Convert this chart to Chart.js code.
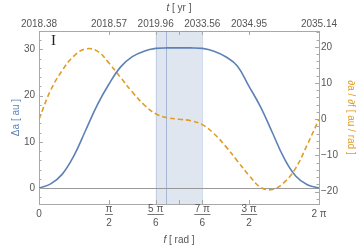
<!DOCTYPE html>
<html>
<head>
<meta charset="utf-8">
<script src="https://cdn.jsdelivr.net/npm/chart.js@4"></script>
<style>body{margin:0;background:#fff}canvas{display:block}</style>
</head>
<body>
<canvas id="c" width="358" height="248"></canvas>
<script>
const PI = Math.PI;

// true anomaly grid [rad]
const fGrid = [0, 0.2618, 0.5236, 0.7854, 1.0472, 1.3090, 1.5708, 1.8326, 2.0944, 2.3562, 2.6180, 2.8798,
  3.1416, 3.4034, 3.6652, 3.9270, 4.1888, 4.4506, 4.7124, 4.9742, 5.2360, 5.4978, 5.7596, 6.0214, 6.2832];
// delta a [au]
const deltaA = [0, 0.9, 3, 7, 12.5, 18, 22.5, 26.2, 28.4, 29.6, 30.2, 30.3,
  30.3, 30.3, 30.2, 29.6, 28.4, 26.4, 22, 17.5, 12, 6.5, 2.6, 0.7, 0];
// da/df [au/rad]
const dadf = [0, 8, 13.5, 17.5, 19.4, 18.8, 15.5, 11.5, 7.5, 4, 1.5, 0.4,
  0, -0.4, -1.5, -4, -7.5, -11.5, -15.5, -18.8, -19.4, -17.5, -13.5, -7, 0];

const fTicks = [0, PI/2, 5*PI/6, PI, 7*PI/6, 3*PI/2, 2*PI];
const fTickLabels = ['0', ['π','2'], ['5 π','6'], '', ['7 π','6'], ['3 π','2'], '2 π'];
const tTickLabels = ['2018.38', '2018.57', '2019.96', '', '2033.56', '2034.95', '2035.14'];
const leftTicks = [0, 10, 20, 30];
const rightTicks = [-20, -10, 0, 10, 20];
const rightTickLabels = ['−20', '−10', '0', '10', '20'];
const band = [5*PI/6, 7*PI/6];
const fMark = 2.86;

const BLUE = '#5e81b5', ORANGE = '#e19c24', FRAME = '#a8a8a8', TXT = '#555';
const FONT = '"Liberation Sans", Arial, sans-serif';

function seg(ctx, x0, y0, x1, y1) {
  ctx.beginPath(); ctx.moveTo(x0, y0); ctx.lineTo(x1, y1); ctx.stroke();
}
const crisp = v => Math.round(v) + 0.5;

const decor = {
  id: 'decor',
  beforeDatasetsDraw(chart) {
    const {ctx, chartArea: a, scales: {x, y}} = chart;
    const x0 = x.getPixelForValue(band[0]), x1 = x.getPixelForValue(band[1]);
    ctx.save();
    ctx.fillStyle = 'rgba(94,129,181,0.2)';
    ctx.fillRect(x0, a.top, x1 - x0, a.bottom - a.top);
    ctx.lineWidth = 1;
    ctx.strokeStyle = 'rgba(94,129,181,0.22)';
    [x0, x1].forEach(p => seg(ctx, crisp(p), a.top, crisp(p), a.bottom));
    ctx.strokeStyle = 'rgba(94,129,181,0.45)';
    const xm = crisp(x.getPixelForValue(fMark));
    seg(ctx, xm, a.top, xm, a.bottom);
    ctx.strokeStyle = '#999';
    const yz = crisp(y.getPixelForValue(0));
    seg(ctx, a.left, yz, a.right, yz);
    ctx.restore();
  },
  afterDraw(chart) {
    const {ctx, chartArea: a, scales: {x, y, y2}} = chart;
    ctx.save();
    ctx.strokeStyle = FRAME;
    ctx.lineWidth = 1;
    // inward ticks, top and bottom
    fTicks.forEach(v => {
      const p = crisp(x.getPixelForValue(v));
      seg(ctx, p, a.bottom, p, a.bottom - 4);
      seg(ctx, p, a.top, p, a.top + 4);
    });
    // left ticks
    for (let v = -2; v <= y.max; v += 2) {
      const p = crisp(y.getPixelForValue(v));
      seg(ctx, a.left, p, a.left + (v % 10 === 0 ? 4 : 2.5), p);
    }
    // right ticks
    for (let v = -22; v <= y2.max; v += 2) {
      const p = crisp(y2.getPixelForValue(v));
      seg(ctx, a.right, p, a.right - (v % 10 === 0 ? 4 : 2.5), p);
    }
    // bottom tick labels with fractions, top tick labels in years
    ctx.fillStyle = TXT;
    ctx.strokeStyle = TXT;
    ctx.font = '10px ' + FONT;
    ctx.textAlign = 'center';
    ctx.textBaseline = 'alphabetic';
    fTicks.forEach((v, i) => {
      const lab = fTickLabels[i];
      const p = x.getPixelForValue(v);
      if (Array.isArray(lab)) {
        ctx.fillText(lab[0], p, a.bottom + 8);
        ctx.fillText(lab[1], p, a.bottom + 22);
        const w = Math.max(ctx.measureText(lab[0]).width, ctx.measureText(lab[1]).width) + 1;
        ctx.lineWidth = 0.8;
        seg(ctx, p - w / 2, a.bottom + 10.5, p + w / 2, a.bottom + 10.5);
      } else if (lab) {
        ctx.fillText(lab, p, a.bottom + 13);
      }
      if (tTickLabels[i]) ctx.fillText(tTickLabels[i], p, a.top - 4);
    });
    // axis titles
    const title = (it, rest, cx, cy) => {
      ctx.font = 'italic 10px ' + FONT;
      const w1 = ctx.measureText(it).width;
      ctx.font = '10px ' + FONT;
      const w2 = ctx.measureText(rest).width;
      const sx = cx - (w1 + w2) / 2;
      ctx.textAlign = 'left';
      ctx.font = 'italic 10px ' + FONT;
      ctx.fillText(it, sx, cy);
      ctx.font = '10px ' + FONT;
      ctx.fillText(rest, sx + w1, cy);
    };
    const cx = (a.left + a.right) / 2;
    title('f', ' [ rad ]', cx, 243);
    title('t', ' [ yr ]', cx, 11);
    // panel label
    ctx.fillStyle = '#222';
    ctx.font = '15px "Liberation Serif", serif';
    ctx.textAlign = 'left';
    ctx.fillText('I', a.left + 12, a.top + 14);
    ctx.restore();
  }
};

new Chart(document.getElementById('c'), {
  type: 'line',
  data: {
    datasets: [
      {
        data: fGrid.map((f, i) => ({x: f, y: deltaA[i]})),
        yAxisID: 'y',
        borderColor: BLUE,
        borderWidth: 1.6,
        pointRadius: 0,
        tension: 0.4
      },
      {
        data: fGrid.map((f, i) => ({x: f, y: dadf[i]})),
        yAxisID: 'y2',
        borderColor: ORANGE,
        borderWidth: 1.6,
        borderDash: [5, 3],
        pointRadius: 0,
        tension: 0.4
      }
    ]
  },
  options: {
    responsive: false,
    animation: false,
    events: [],
    layout: {padding: 0},
    plugins: {legend: {display: false}, tooltip: {enabled: false}},
    scales: {
      x: {
        type: 'linear', position: 'bottom', min: 0, max: 2 * PI,
        grid: {display: false},
        border: {display: true, color: FRAME, width: 1},
        ticks: {display: false},
        afterFit: s => { s.height = 44; }
      },
      x2: {
        type: 'linear', position: 'top', min: 0, max: 2 * PI,
        grid: {display: false, drawTicks: false},
        border: {display: true, color: FRAME, width: 1},
        ticks: {display: false},
        afterFit: s => { s.height = 31; }
      },
      y: {
        type: 'linear', position: 'left', min: -3.46, max: 33.96,
        grid: {display: false, drawTicks: false},
        border: {display: true, color: FRAME, width: 1},
        afterBuildTicks: s => { s.ticks = leftTicks.map(v => ({value: v})); },
        ticks: {padding: 4, color: TXT, font: {family: FONT, size: 10}},
        title: {display: true, text: 'Δa [ au ]', color: BLUE, padding: {top: 10, bottom: 0},
          font: {family: FONT, size: 10}},
        afterFit: s => { s.width = 39; }
      },
      y2: {
        type: 'linear', position: 'right', min: -23.4, max: 24.35,
        grid: {display: false, drawTicks: false},
        border: {display: true, color: FRAME, width: 1},
        afterBuildTicks: s => { s.ticks = rightTicks.map(v => ({value: v})); },
        ticks: {padding: 2, color: TXT, font: {family: FONT, size: 10},
          callback: (v, i) => rightTickLabels[i]},
        title: {display: true, text: '∂a / ∂f [ au / rad ]', color: ORANGE, padding: {top: 1, bottom: 0},
          font: {family: FONT, size: 10}},
        afterFit: s => { s.width = 39; }
      }
    }
  },
  plugins: [decor]
});
</script>
</body>
</html>
